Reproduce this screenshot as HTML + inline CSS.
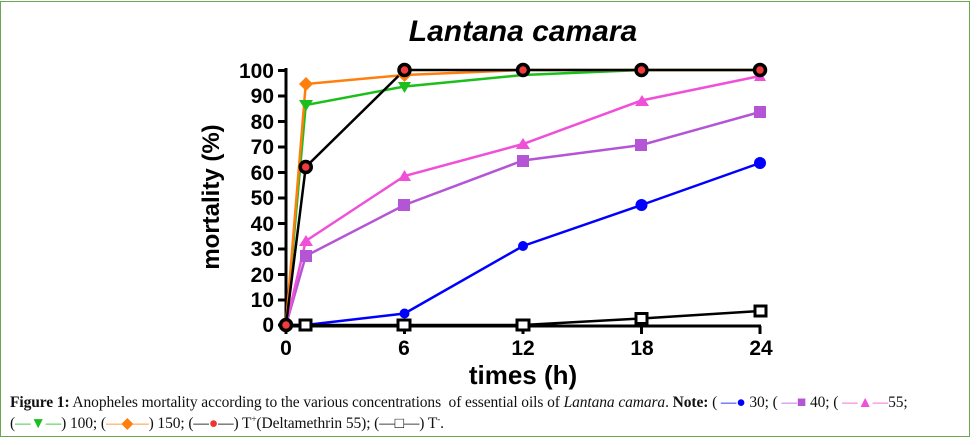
<!DOCTYPE html>
<html><head><style>
body{margin:0;background:#fff;}
.cap{position:absolute;left:10px;font-family:"Liberation Serif",serif;font-size:15.5px;color:#111;white-space:nowrap;letter-spacing:-0.1px}
</style></head><body>
<div style="position:relative;width:980px;height:445px;overflow:hidden">
<div style="position:absolute;left:0;top:1px;width:970px;height:436px;border:1.5px solid #6aa84f;box-sizing:border-box"></div>
<svg width="980" height="445" style="position:absolute;left:0;top:0" font-family="Liberation Sans, sans-serif">
<text x="523" y="41" text-anchor="middle" font-size="30" font-weight="bold" font-style="italic">Lantana camara</text>
<g stroke="#000" stroke-width="3" fill="none">
<path d="M286,68V326H761"/>
<path d="M278,70.5h8M278,96h8M278,121.5h8M278,147h8M278,172.5h8M278,198h8M278,223.5h8M278,249h8M278,274.5h8M278,300h8M278,325h8"/>
<path d="M286,326v8M404.5,326v8M523,326v8M641.5,326v8M760,326v8"/>
</g>
<g font-size="21" font-weight="bold" text-anchor="end">
<text x="274" y="78">100</text><text x="274" y="103">90</text><text x="274" y="129">80</text><text x="274" y="154">70</text><text x="274" y="180">60</text><text x="274" y="205">50</text><text x="274" y="231">40</text><text x="274" y="256">30</text><text x="274" y="282">20</text><text x="274" y="307">10</text><text x="274" y="332">0</text>
</g>
<g font-size="21" font-weight="bold" text-anchor="middle">
<text x="286" y="355">0</text><text x="404" y="355">6</text><text x="523" y="355">12</text><text x="642" y="355">18</text><text x="761" y="355">24</text>
</g>
<text x="523" y="384" text-anchor="middle" font-size="26" font-weight="bold">times (h)</text>
<text transform="translate(219,197) rotate(-90)" text-anchor="middle" font-size="24" font-weight="bold">mortality (%)</text>
<g fill="none" stroke-width="2.5">
<polyline stroke="#00f" points="286,325 305.75,325 404.5,313.5 523,246 641.5,205 760,163"/>
<polyline stroke="#b455d6" points="286,325 305.75,256 404.5,205 523,160.5 641.5,145 760,112"/>
<polyline stroke="#f050d8" points="286,325 305.75,241 404.5,176 523,144 641.5,100.5 760,76"/>
<polyline stroke="#1bbf1b" points="286,325 305.75,105 404.5,86.5 523,75 641.5,70 760,70"/>
<polyline stroke="#ff7f0e" points="286,325 305.75,84 404.5,75 523,70 641.5,70 760,70"/>
<polyline stroke="#000" points="286,325 305.75,167 404.5,70 523,70 641.5,70 760,70"/>
<polyline stroke="#000" points="286,325 305.75,325 404.5,325 523,325 641.5,318.5 760,311"/>
</g>
<g fill="#00f"><circle cx="404.5" cy="313.5" r="5"/><circle cx="523" cy="246" r="5"/><circle cx="641.5" cy="205" r="6"/><circle cx="760" cy="163" r="6"/></g>
<g fill="#b455d6"><rect x="300" y="250" width="12" height="12"/><rect x="398" y="199" width="12" height="12"/><rect x="517" y="155" width="12" height="12"/><rect x="635" y="139" width="12" height="12"/><rect x="754" y="106" width="12" height="12"/></g>
<g fill="#f050d8"><path d="M299,246l7,-11 7,11z"/><path d="M398,181l6.5,-11 6.5,11z"/><path d="M516,149l7,-11 7,11z"/><path d="M635,106l7,-11 7,11z"/><path d="M754,81l6,-11 6,11z"/></g>
<g fill="#1bbf1b"><path d="M299,100l7,11 7,-11z"/><path d="M398,82l6.5,11 6.5,-11z"/></g>
<g fill="#ff7f0e"><path d="M306,77l7,7 -7,7 -7,-7z"/><path d="M404.5,68l7,7 -7,7 -7,-7z"/></g>
<g fill="#f03c3c" stroke="#000" stroke-width="3.5"><circle cx="305.75" cy="167" r="5.5"/><circle cx="404.5" cy="70" r="5.5"/><circle cx="523" cy="70" r="5.5"/><circle cx="641.5" cy="70" r="5.5"/><circle cx="760" cy="70" r="5.5"/><circle cx="286" cy="325" r="5.5"/></g>
<g fill="#fff" stroke="#000" stroke-width="3"><rect x="300" y="320" width="11" height="10"/><rect x="398" y="320" width="12" height="10"/><rect x="517" y="320" width="12" height="10"/><rect x="636" y="313.5" width="11" height="10"/><rect x="755" y="306" width="11" height="10"/></g>
</svg>
<div class="cap" style="top:394px"><b>Figure 1:</b> Anopheles mortality according to the various concentrations&nbsp; of essential oils of <i>Lantana camara</i>. <b>Note:</b> ( <span style="color:#00f">—●</span> 30; ( <span style="color:#b455d6">—■</span> 40; ( <span style="color:#f050d8">—▲—</span>55;</div>
<div class="cap" style="top:414px">(<span style="color:#1bbf1b">—▼—</span>) 100; (<span style="color:#ff7f0e">—◆—</span>) 150; (<span style="color:#000">—<span style="color:#e33">●</span>—</span>) T<sup style="font-size:9px">+</sup>(Deltamethrin 55); (—□—) T<sup style="font-size:9px">-</sup>.</div>
</div>
</body></html>
